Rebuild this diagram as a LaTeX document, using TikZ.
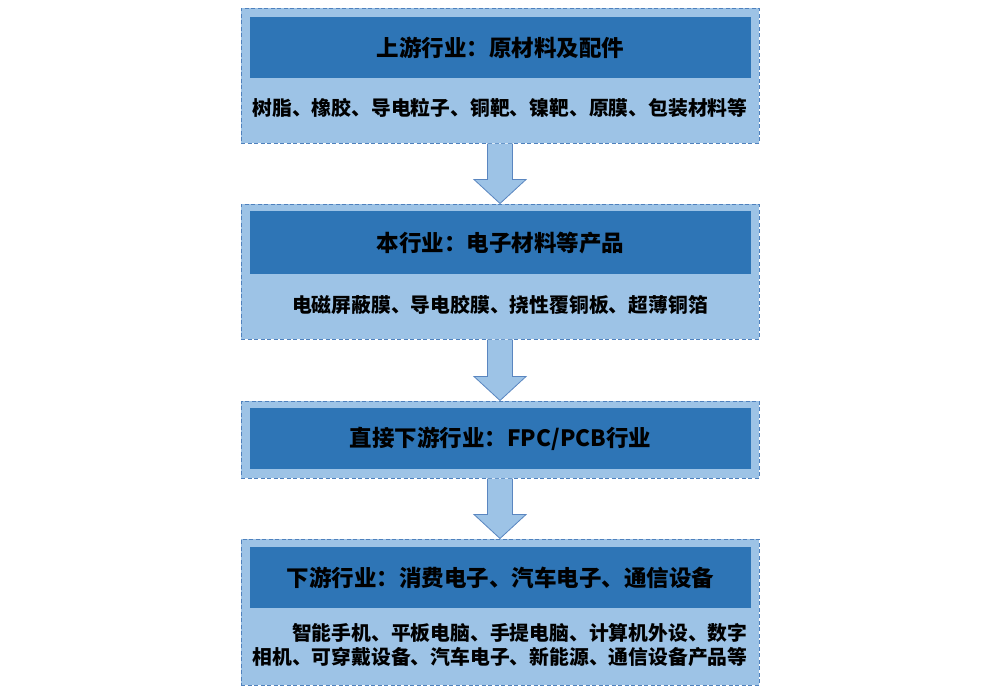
\documentclass[tikz,border=0pt]{standalone}
\usepackage{fontspec}
\newfontfamily\cjk{Noto Sans CJK SC}
\usetikzlibrary{calc}
\definecolor{darkc}{HTML}{2E75B6}
\definecolor{lightc}{HTML}{9DC3E6}
\definecolor{bordc}{HTML}{4F81BD}
\definecolor{arrowc}{HTML}{5A86C0}
\begin{document}
\begin{tikzpicture}[x=1pt,y=-1pt,
  outer/.style={draw=bordc, dash pattern=on 4pt off 2.5pt, line width=1pt, fill=lightc, minimum width=518pt, inner sep=0pt},
  band/.style={fill=darkc, minimum width=501pt, inner sep=0pt},
  titletxt/.style={font=\cjk\bfseries\fontsize{22.5}{26}\selectfont, inner sep=0pt},
  bodytxt/.style={font=\cjk\bfseries\fontsize{19.8}{24.5}\selectfont, inner sep=0pt},
  blockarrow/.style={draw=arrowc, fill=lightc, line width=0.8pt, line join=miter}]
\fill[white] (0,0) rectangle (1000,694);
\useasboundingbox (0,0) rectangle (1000,694);
% box 1
\node[outer, minimum height=135pt] (b1) at (500,75.5) {};
\node[band, minimum height=61pt] (k1) at (500.5,47.5) {};
\node[titletxt] (t1) at (k1) {上游行业：原材料及配件};
\node[bodytxt] (d1) at (500,108) {树脂、橡胶、导电粒子、铜靶、镍靶、原膜、包装材料等};
% box 2
\node[outer, minimum height=135pt] (b2) at (500,271.5) {};
\node[band, minimum height=63pt] (k2) at (500.5,242.5) {};
\node[titletxt] (t2) at (k2) {本行业：电子材料等产品};
\node[bodytxt] (d2) at (500,305) {电磁屏蔽膜、导电胶膜、挠性覆铜板、超薄铜箔};
% box 3
\node[outer, minimum height=77pt] (b3) at (500,439.5) {};
\node[band, minimum height=61pt] (k3) at (500.5,438.5) {};
\node[titletxt] (t3) at (k3) {直接下游行业：FPC/PCB行业};
% box 4
\node[outer, minimum height=146pt] (b4) at (500,612) {};
\node[band, minimum height=61pt] (k4) at (500.5,577.5) {};
\node[titletxt] (t4) at (k4) {下游行业：消费电子、汽车电子、通信设备};
\node[bodytxt, align=right] (d4) at (500,645) {智能手机、平板电脑、手提电脑、计算机外设、数字\\相机、可穿戴设备、汽车电子、新能源、通信设备产品等};
% arrows
\foreach \a/\b in {b1/b2,b2/b3,b3/b4}{
  \draw[blockarrow] ($(\a.south)+(-12.5,0)$) -- ($(\b.north)+(-12.5,-24)$) -- ($(\b.north)+(-26,-24)$) -- (\b.north) -- ($(\b.north)+(26,-24)$) -- ($(\b.north)+(12.5,-24)$) -- ($(\a.south)+(12.5,0)$);
}
\end{tikzpicture}
\end{document}
